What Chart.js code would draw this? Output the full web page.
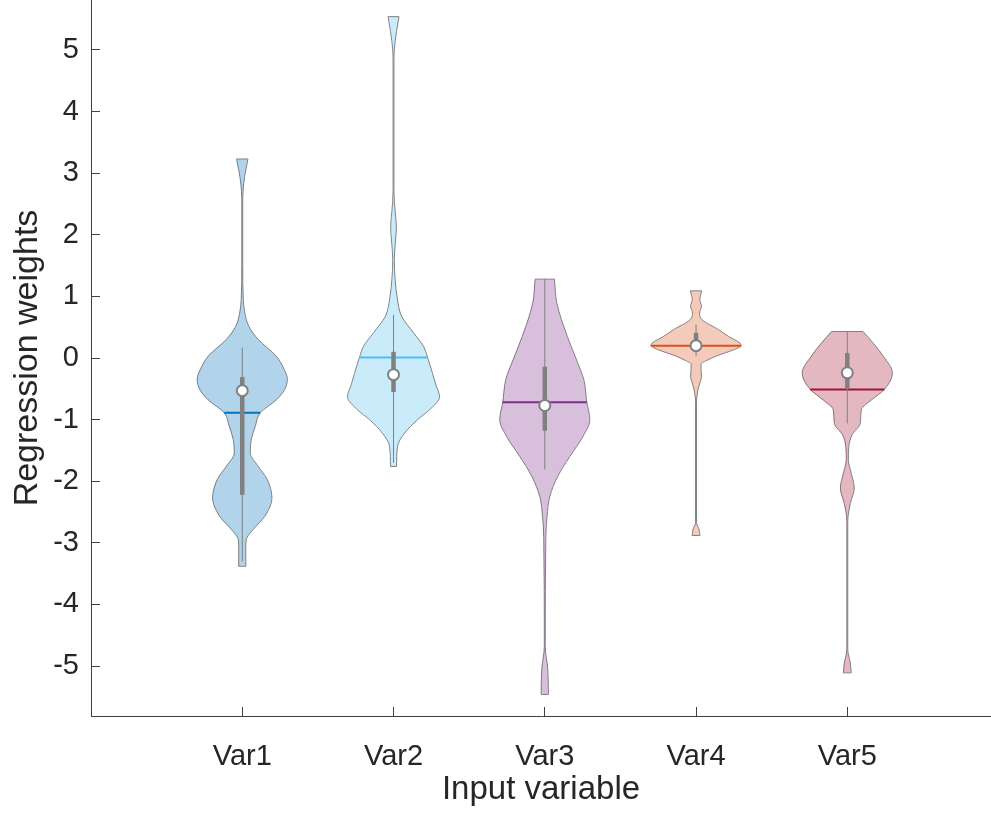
<!DOCTYPE html>
<html>
<head>
<meta charset="utf-8">
<script src="https://cdn.jsdelivr.net/npm/chart.js@4/dist/chart.umd.min.js"></script>
<style>
html,body{margin:0;padding:0;background:#fff;}
#wrap{width:991px;height:813px;}
</style>
</head>
<body>
<div id="wrap"><canvas id="c" width="991" height="813"></canvas></div>
<script>
// ---- Data ----
const categories = ['Var1', 'Var2', 'Var3', 'Var4', 'Var5'];
const xTickPositions = [1, 2, 3, 4, 5];
const yTickValues = [-5, -4, -3, -2, -1, 0, 1, 2, 3, 4, 5];

// Violin outlines: sample values (y) and kernel-density half-widths (x units)
const var1Y = [-3.38, -3.15, -2.95, -2.78, -2.57, -2.27, -1.97, -1.76, -1.54, -1.32, -1.11, -0.89, -0.68, -0.51, -0.34, -0.19, 0.03, 0.30, 0.51, 0.73, 0.95, 1.5, 2.57, 2.84, 3.05, 3.23];
const var1W = [0.024, 0.023, 0.026, 0.073, 0.149, 0.196, 0.165, 0.106, 0.053, 0.060, 0.086, 0.119, 0.225, 0.281, 0.298, 0.278, 0.225, 0.106, 0.044, 0.017, 0.007, 0.003, 0.003, 0.010, 0.023, 0.038];

const var2Y = [-1.76, -1.44, -1.22, -1.0, -0.84, -0.63, -0.42, -0.25, 0.01, 0.19, 0.41, 0.68, 0.95, 1.3, 1.6, 1.9, 2.13, 2.4, 2.7, 4.8, 5.0, 5.3, 5.54];
const var2W = [0.020, 0.026, 0.073, 0.159, 0.238, 0.304, 0.278, 0.258, 0.225, 0.198, 0.132, 0.053, 0.026, 0.010, 0.005, 0.013, 0.019, 0.010, 0.003, 0.003, 0.005, 0.020, 0.036];

const var3Y = [-5.46, -5.05, -4.68, -2.9, -2.57, -2.25, -1.92, -1.6, -1.28, -1.0, -0.72, -0.35, -0.08, 0.35, 0.9, 1.28];
const var3W = [0.024, 0.020, 0.003, 0.007, 0.015, 0.033, 0.086, 0.165, 0.251, 0.298, 0.278, 0.258, 0.218, 0.149, 0.079, 0.064];

const var4Y = [-2.88, -2.78, -2.67, -0.7, -0.6, -0.47, -0.4, -0.3, -0.19, -0.1, -0.03, 0.03, 0.13, 0.2, 0.24, 0.35, 0.46, 0.62, 0.73, 0.84, 0.95, 1.09];
const var4W = [0.026, 0.020, 0.003, 0.003, 0.007, 0.017, 0.026, 0.036, 0.033, 0.033, 0.079, 0.132, 0.245, 0.298, 0.291, 0.215, 0.149, 0.040, 0.023, 0.036, 0.025, 0.038];

const var5Y = [-5.11, -4.95, -4.73, -2.7, -2.57, -2.36, -2.11, -1.87, -1.65, -1.44, -1.25, -1.06, -0.84, -0.68, -0.51, -0.24, 0.03, 0.24, 0.43];
const var5W = [0.026, 0.020, 0.003, 0.003, 0.005, 0.020, 0.046, 0.026, 0.007, 0.010, 0.031, 0.086, 0.093, 0.160, 0.245, 0.298, 0.238, 0.172, 0.104];

// Summary statistics per variable
const means      = [-0.89, 0.01, -0.72, 0.20, -0.51];
const medians    = [-0.53, -0.27, -0.77, 0.20, -0.24];
const q1s        = [-2.22, -0.55, -1.18, 0.10, -0.49];
const q3s        = [-0.31, 0.10, -0.14, 0.41, 0.08];
const whiskerLow = [-3.30, -1.70, -1.81, 0.03, -1.06];
const whiskerHigh= [0.17, 0.70, 1.28, 0.54, 0.43];

// ---- Styles ----
const baseColors = [[0,114,189],[77,190,238],[126,47,142],[217,83,25],[162,20,47]];
const edgeGray = 'rgb(128,128,128)';
const textColor = '#262626';
const axisColor = '#404040';
const fontFamily = "'Liberation Sans', Arial, Helvetica, sans-serif";

const violinYs = [var1Y, var2Y, var3Y, var4Y, var5Y];
const violinWs = [var1W, var2W, var3W, var4W, var5W];

function widthAt(ys, ws, v) {
  for (let i = 0; i < ys.length - 1; i++) {
    if (v >= ys[i] && v <= ys[i+1]) {
      const t = (v - ys[i]) / (ys[i+1] - ys[i]);
      return ws[i] + t * (ws[i+1] - ws[i]);
    }
  }
  return 0;
}

const datasets = [];
for (let k = 0; k < categories.length; k++) {
  const c = xTickPositions[k];
  const ys = violinYs[k], ws = violinWs[k];
  const [r, g, b] = baseColors[k];
  const fillCol = `rgba(${r},${g},${b},0.3)`;
  const solid = `rgb(${r},${g},${b})`;
  // right edge (fills to left edge)
  datasets.push({
    data: ys.map((y, i) => ({x: c + ws[i], y})),
    borderColor: edgeGray, borderWidth: 1, pointRadius: 0,
    backgroundColor: fillCol, fill: '+1',
    cubicInterpolationMode: 'monotone', order: 10
  });
  // left edge
  datasets.push({
    data: ys.map((y, i) => ({x: c - ws[i], y})),
    borderColor: edgeGray, borderWidth: 1, pointRadius: 0,
    backgroundColor: fillCol, fill: false,
    cubicInterpolationMode: 'monotone', order: 10
  });
  // flat caps at data extremes
  const n = ys.length - 1;
  datasets.push({
    data: [
      {x: c - ws[0], y: ys[0]}, {x: c + ws[0], y: ys[0]},
      {x: null, y: (ys[0] + ys[n]) / 2},
      {x: c - ws[n], y: ys[n]}, {x: c + ws[n], y: ys[n]}
    ],
    borderColor: edgeGray, borderWidth: 1, pointRadius: 0, fill: false,
    tension: 0, spanGaps: false, order: 9
  });
  // mean line
  const hw = widthAt(ys, ws, means[k]);
  datasets.push({
    data: [{x: c - hw, y: means[k]}, {x: c + hw, y: means[k]}],
    borderColor: solid, borderWidth: 2, pointRadius: 0, fill: false,
    tension: 0, order: 8
  });
  // whisker
  datasets.push({
    data: [{x: c, y: whiskerLow[k]}, {x: c, y: whiskerHigh[k]}],
    borderColor: edgeGray, borderWidth: 1, pointRadius: 0, fill: false,
    tension: 0, order: 7
  });
  // interquartile box
  datasets.push({
    data: [{x: c, y: q1s[k]}, {x: c, y: q3s[k]}],
    borderColor: edgeGray, borderWidth: 4.5, borderCapStyle: 'butt',
    pointRadius: 0, fill: false, tension: 0, order: 6
  });
  // median marker
  datasets.push({
    data: [{x: c, y: medians[k]}],
    showLine: false, pointRadius: 5.5, pointBackgroundColor: '#ffffff',
    pointBorderColor: edgeGray, pointBorderWidth: 2, order: 5
  });
}

new Chart(document.getElementById('c'), {
  type: 'line',
  data: { datasets },
  options: {
    indexAxis: 'y',
    responsive: false,
    animation: false,
    events: [],
    layout: { padding: 0, autoPadding: false },
    plugins: { legend: { display: false }, tooltip: { enabled: false } },
    scales: {
      x: {
        type: 'linear', position: 'bottom', min: 0, max: 5.95,
        afterBuildTicks: (s) => { s.ticks = xTickPositions.map(v => ({value: v})); },
        afterFit: (s) => { s.height = 97; s.paddingLeft = 0; s.paddingRight = 0; },
        grid: { display: true, drawOnChartArea: false, drawTicks: true, tickLength: -9, tickColor: axisColor, color: axisColor },
        border: { display: true, color: axisColor, width: 1 },
        ticks: {
          autoSkip: false, maxRotation: 0, padding: 33,
          color: textColor, font: { family: fontFamily, size: 29 },
          callback: (v, i) => categories[i]
        },
        title: {
          display: true, text: 'Input variable', color: textColor,
          font: { family: fontFamily, size: 33 }, padding: { top: 0, bottom: 3 }
        }
      },
      y: {
        type: 'linear', position: 'left', min: -5.81, max: 5.81,
        afterBuildTicks: (s) => { s.ticks = yTickValues.map(v => ({value: v})); },
        afterFit: (s) => { s.width = 91; s.paddingTop = 0; s.paddingBottom = 0; },
        grid: { display: true, drawOnChartArea: false, drawTicks: true, tickLength: -9, tickColor: axisColor, color: axisColor },
        border: { display: true, color: axisColor, width: 1 },
        ticks: {
          autoSkip: false, padding: 21,
          color: textColor, font: { family: fontFamily, size: 29 },
          callback: (v) => String(v)
        },
        title: {
          display: true, text: 'Regression weights', color: textColor,
          font: { family: fontFamily, size: 34 }, padding: { top: 7, bottom: 0 }
        }
      }
    }
  }
});
</script>
</body>
</html>
